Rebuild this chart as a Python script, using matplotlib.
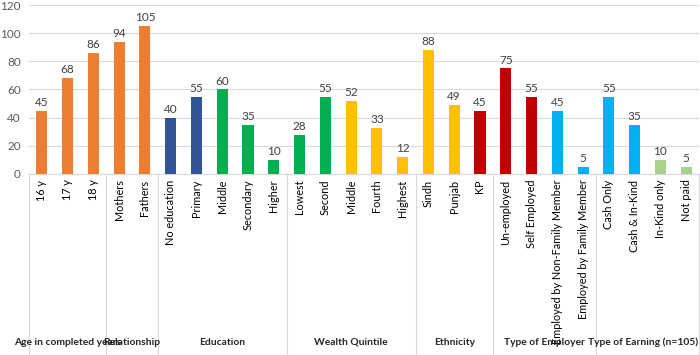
import numpy as np
import matplotlib.pyplot as plt
from matplotlib.transforms import blended_transform_factory

plt.rcParams['font.family'] = ['Lato', 'DejaVu Sans']

# data
labels = ['16 y', '17 y', '18 y', 'Mothers', 'Fathers',
          'No education', 'Primary', 'Middle', 'Secondary', 'Higher',
          'Lowest', 'Second', 'Middle', 'Fourth', 'Highest',
          'Sindh', 'Punjab', 'KP',
          'Un-employed', 'Self Employed', 'Employed by Non-Family Member', 'Employed by Family Member',
          'Cash Only', 'Cash & In-Kind', 'In-Kind only', 'Not paid']
values = [45, 68, 86, 94, 105,
          40, 55, 60, 35, 10,
          28, 55, 52, 33, 12,
          88, 49, 45,
          75, 55, 45, 5,
          55, 35, 10, 5]
groups = ['Age in completed years', 'Relationship', 'Education', 'Wealth Quintile',
          'Ethnicity', 'Type of Employer', 'Type of Earning (n=105)']
group_sizes = [3, 2, 5, 5, 3, 4, 4]

orange = '#ED7D31'
dblue = '#2F5597'
green = '#00B050'
yellow = '#FFC000'
red = '#C00000'
lblue = '#00B0F0'
lgreen = '#A9D18E'
colors = [orange] * 5 + [dblue] * 2 + [green] * 3 + [green] * 2 + [yellow] * 3 \
         + [yellow] * 2 + [red] + [red] * 2 + [lblue] * 2 + [lblue] * 2 + [lgreen] * 2

fig = plt.figure(figsize=(7, 3.55), dpi=100)
ax = fig.add_axes([0.0414, 0.5099, 0.9572, 0.476])

x = np.arange(len(values))
ax.bar(x, values, width=0.43, color=colors, zorder=3)
for xi, v in zip(x, values):
    ax.text(xi, v + 2, str(v), ha='center', va='bottom', fontsize=8.5, color='#404040')

ax.set_xlim(-0.5, len(values) - 0.5)
ax.set_ylim(0, 120)
ax.set_yticks(np.arange(0, 121, 20))
ax.yaxis.grid(True, color='#D9D9D9', linewidth=0.8, zorder=0)
for s in ['top', 'right', 'left']:
    ax.spines[s].set_visible(False)
ax.spines['bottom'].set_color('#D9D9D9')
ax.tick_params(axis='y', length=0, labelsize=8.5, labelcolor='#595959', pad=6)
ax.set_xticks(x)
ax.set_xticklabels(labels, rotation=90, fontsize=7.8, color='#000000')
ax.tick_params(axis='x', length=0, pad=4)

# group separators and labels
trans = blended_transform_factory(ax.transData, ax.transAxes)
edges = np.concatenate([[0], np.cumsum(group_sizes)]) - 0.5
for e in edges:
    ax.plot([e, e], [0, -1.08], transform=trans, color='#D9D9D9', linewidth=0.8, clip_on=False)
for i, g in enumerate(groups):
    mid = (edges[i] + edges[i + 1]) / 2
    if i == len(groups) - 1:
        # last label would run past the right edge
        ax.text(edges[i + 1] - 0.04, -0.995, g, transform=trans, ha='right', va='center',
                fontsize=7.4, fontweight='bold', color='#262626')
    else:
        ax.text(mid, -0.995, g, transform=trans, ha='center', va='center',
                fontsize=7.4, fontweight='bold', color='#262626')

fig.savefig('out.png', dpi=100)
